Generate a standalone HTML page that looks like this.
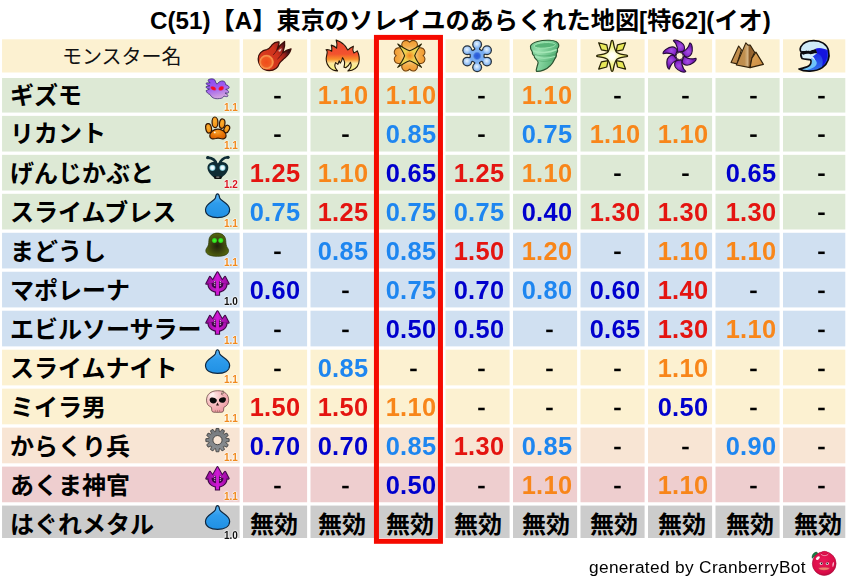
<!DOCTYPE html>
<html><head><meta charset="utf-8"><title>C(51) A</title>
<style>
html,body{margin:0;padding:0;background:#fff}
body{width:849px;height:583px;position:relative;overflow:hidden;font-family:"Liberation Sans",sans-serif}
svg.bg{position:absolute;left:0;top:0}
.n,.l,.f{will-change:transform}
.n{position:absolute;width:80px;height:30px;line-height:30px;text-align:center;font-weight:bold;font-size:25.4px;letter-spacing:0.3px;white-space:nowrap}
.n::after{content:"";}
.l{position:absolute;font-weight:bold;font-size:10.0px;line-height:10px;letter-spacing:0px;text-shadow:0 0 1.2px #fff,0 0 1.2px #fff,0 0 1.5px #fff,0 0 2px #fff}
.f{position:absolute;left:589px;top:556.2px;font-size:17.3px;letter-spacing:0.34px;line-height:22px;color:#000;white-space:nowrap}
</style></head><body>
<svg class="bg" width="849" height="583" viewBox="0 0 849 583">
<defs><g id="mk"><text x="0" y="0" font-size="24" font-weight="bold" fill="#000" font-family="&quot;Liberation Sans&quot;, &quot;Noto Sans CJK JP&quot;, sans-serif">無効</text></g><filter id="f-b5" x="-10%" y="-30%" width="120%" height="160%"><feGaussianBlur stdDeviation="5"/></filter>
<radialGradient id="g-fb" cx="0.48" cy="0.5" r="0.52"><stop offset="0" stop-color="#F04A1A"/><stop offset="0.6" stop-color="#F05A22"/><stop offset="0.82" stop-color="#F89850"/><stop offset="0.92" stop-color="#F07838"/><stop offset="1" stop-color="#DC4420"/></radialGradient>
<linearGradient id="g-fbt" gradientUnits="userSpaceOnUse" x1="200" y1="400" x2="600" y2="200"><stop offset="0" stop-color="#DA3C20"/><stop offset="0.5" stop-color="#CE321C"/><stop offset="0.72" stop-color="#9A221C"/><stop offset="0.88" stop-color="#3A1018"/><stop offset="1" stop-color="#0A0408"/></linearGradient>
<symbol id="i-fireball" viewBox="0 0 706 583">
<path d="M95,335 C95,260 150,205 225,195 C265,188 285,150 310,118 C335,88 380,72 415,75 C420,100 410,130 395,160 L385,195 C410,150 450,100 500,68 C508,110 500,160 480,215 L470,245 C510,210 555,190 600,182 C585,240 545,290 500,325 C470,355 440,375 420,405 C400,470 340,515 265,515 C165,515 95,430 95,335Z" fill="url(#g-fbt)" stroke="#3E0E08" stroke-width="19" stroke-linejoin="round"/>
<path d="M385,195 C370,225 350,250 330,270 M470,245 C450,280 425,310 395,335" fill="none" stroke="#5A1210" stroke-width="14" stroke-linecap="round"/>
<path d="M400,215 C415,195 435,180 455,172 C455,192 445,210 428,225Z" fill="#E8D8D0" opacity="0.85"/>
<circle cx="225" cy="385" r="115" fill="url(#g-fb)"/>
</symbol>
<linearGradient id="g-fl" x1="0" y1="0" x2="0" y2="1"><stop offset="0" stop-color="#EC4830"/><stop offset="0.45" stop-color="#F2522E"/><stop offset="0.62" stop-color="#F8902A"/><stop offset="0.75" stop-color="#FBE9A0"/><stop offset="1" stop-color="#F6F070"/></linearGradient>
<symbol id="i-flame" viewBox="0 0 706 583">
<path d="M270,520 C170,515 95,440 95,335 C95,290 115,250 110,225 C108,212 100,203 93,195 C125,190 155,200 180,218 C185,185 182,155 172,125 C205,135 235,150 255,170 C265,130 262,90 248,48 C330,75 395,130 425,200 C450,175 480,155 512,140 C500,175 500,210 520,245 C540,235 558,225 572,212 C600,270 610,340 595,400 C575,470 515,515 428,522 C465,490 490,440 468,388 C450,425 425,455 395,472 L368,462 C385,415 380,360 345,318 C340,350 330,380 310,402 L295,365 L275,420 L240,393 C222,430 225,480 270,520Z" fill="url(#g-fl)" stroke="#241608" stroke-width="17" stroke-linejoin="round"/>
</symbol>
<radialGradient id="g-bg" cx="0.5" cy="0.5" r="0.5"><stop offset="0" stop-color="#F08A20"/><stop offset="0.22" stop-color="#F4A838"/><stop offset="0.45" stop-color="#EED050"/><stop offset="1" stop-color="#E8DC58"/></radialGradient>
<linearGradient id="g-lb" x1="0" y1="0" x2="0" y2="1"><stop offset="0" stop-color="#F09A30"/><stop offset="0.5" stop-color="#F4AC48"/><stop offset="1" stop-color="#FAD890"/></linearGradient>
<symbol id="i-bang" viewBox="0 0 706 583"><g transform="translate(347,287) rotate(0)"><path d="M0,-60 L-100,-112 C-134,-148 -124,-208 -88,-226 C-56,-242 -20,-232 0,-207 C20,-232 56,-242 88,-226 C124,-208 134,-148 100,-112Z" fill="url(#g-lb)" stroke="#6E4010" stroke-width="16" stroke-linejoin="round"/></g><g transform="translate(347,287) rotate(90)"><path d="M0,-60 L-100,-112 C-134,-148 -124,-208 -88,-226 C-56,-242 -20,-232 0,-207 C20,-232 56,-242 88,-226 C124,-208 134,-148 100,-112Z" fill="url(#g-lb)" stroke="#6E4010" stroke-width="16" stroke-linejoin="round"/></g><g transform="translate(347,287) rotate(180)"><path d="M0,-60 L-100,-112 C-134,-148 -124,-208 -88,-226 C-56,-242 -20,-232 0,-207 C20,-232 56,-242 88,-226 C124,-208 134,-148 100,-112Z" fill="url(#g-lb)" stroke="#6E4010" stroke-width="16" stroke-linejoin="round"/></g><g transform="translate(347,287) rotate(270)"><path d="M0,-60 L-100,-112 C-134,-148 -124,-208 -88,-226 C-56,-242 -20,-232 0,-207 C20,-232 56,-242 88,-226 C124,-208 134,-148 100,-112Z" fill="url(#g-lb)" stroke="#6E4010" stroke-width="16" stroke-linejoin="round"/></g><path d="M165,107 Q275,185 347,210 Q420,185 530,107 Q450,215 425,287 Q450,360 530,467 Q420,390 347,364 Q275,390 165,467 Q245,360 270,287 Q245,215 165,107Z" fill="url(#g-bg)" stroke="#262408" stroke-width="16" stroke-linejoin="round"/></symbol>
<radialGradient id="g-il" cx="0.45" cy="0.4" r="0.6"><stop offset="0" stop-color="#E8F4FF"/><stop offset="0.6" stop-color="#A8CCF6"/><stop offset="1" stop-color="#7AAEF0"/></radialGradient><radialGradient id="g-ic" cx="0.5" cy="0.5" r="0.5"><stop offset="0" stop-color="#2858D8"/><stop offset="0.6" stop-color="#3468DC"/><stop offset="1" stop-color="#7AAEF0"/></radialGradient>
<symbol id="i-ice" viewBox="0 0 706 583"><line x1="355" y1="290" x2="355.0" y2="115.0" stroke="#26303A" stroke-width="94"/><line x1="355" y1="290" x2="506.6" y2="202.5" stroke="#26303A" stroke-width="94"/><line x1="355" y1="290" x2="506.6" y2="377.5" stroke="#26303A" stroke-width="94"/><line x1="355" y1="290" x2="355.0" y2="465.0" stroke="#26303A" stroke-width="94"/><line x1="355" y1="290" x2="203.4" y2="377.5" stroke="#26303A" stroke-width="94"/><line x1="355" y1="290" x2="203.4" y2="202.5" stroke="#26303A" stroke-width="94"/><circle cx="355.0" cy="115.0" r="76" fill="#26303A"/><circle cx="506.6" cy="202.5" r="76" fill="#26303A"/><circle cx="506.6" cy="377.5" r="76" fill="#26303A"/><circle cx="355.0" cy="465.0" r="76" fill="#26303A"/><circle cx="203.4" cy="377.5" r="76" fill="#26303A"/><circle cx="203.4" cy="202.5" r="76" fill="#26303A"/><circle cx="355" cy="290" r="116" fill="#26303A"/><line x1="355" y1="290" x2="355.0" y2="115.0" stroke="#7AAEF0" stroke-width="58"/><line x1="355" y1="290" x2="506.6" y2="202.5" stroke="#7AAEF0" stroke-width="58"/><line x1="355" y1="290" x2="506.6" y2="377.5" stroke="#7AAEF0" stroke-width="58"/><line x1="355" y1="290" x2="355.0" y2="465.0" stroke="#7AAEF0" stroke-width="58"/><line x1="355" y1="290" x2="203.4" y2="377.5" stroke="#7AAEF0" stroke-width="58"/><line x1="355" y1="290" x2="203.4" y2="202.5" stroke="#7AAEF0" stroke-width="58"/><circle cx="355" cy="290" r="98" fill="#7AAEF0"/><circle cx="355.0" cy="115.0" r="57" fill="url(#g-il)"/><circle cx="506.6" cy="202.5" r="57" fill="url(#g-il)"/><circle cx="506.6" cy="377.5" r="57" fill="url(#g-il)"/><circle cx="355.0" cy="465.0" r="57" fill="url(#g-il)"/><circle cx="203.4" cy="377.5" r="57" fill="url(#g-il)"/><circle cx="203.4" cy="202.5" r="57" fill="url(#g-il)"/><circle cx="355" cy="290" r="68" fill="url(#g-ic)"/></symbol>
<linearGradient id="g-wd" x1="0" y1="0" x2="1" y2="0.3"><stop offset="0" stop-color="#6EC48C"/><stop offset="0.35" stop-color="#98E0AE"/><stop offset="0.8" stop-color="#66BE84"/><stop offset="1" stop-color="#56B076"/></linearGradient>
<symbol id="i-wind" viewBox="0 0 706 583">
<path d="M130,140 C150,75 300,45 420,50 C500,52 560,80 565,125 C568,150 555,170 540,185 C550,205 545,235 525,255 C535,285 520,315 500,340 C470,410 400,480 330,508 C295,522 255,528 222,527 C208,500 235,455 248,395 C250,380 235,360 215,340 C195,325 185,305 188,290 C165,275 155,250 160,230 C140,210 125,180 130,140Z" fill="url(#g-wd)" stroke="#2A5230" stroke-width="18" stroke-linejoin="round"/>
<ellipse cx="350" cy="128" rx="165" ry="42" transform="rotate(-4 350 128)" fill="#58B478" stroke="#9EE4B0" stroke-width="14"/>
<g filter="url(#f-b5)"><path d="M175,215 C250,250 420,245 525,195" fill="none" stroke="#A4E6B6" stroke-width="24" stroke-linecap="round"/>
<path d="M185,262 C260,300 410,300 510,262" fill="none" stroke="#4CA468" stroke-width="12" stroke-linecap="round" opacity="0.8"/>
<path d="M205,300 C270,335 400,335 500,300" fill="none" stroke="#A4E6B6" stroke-width="18" stroke-linecap="round"/>
<path d="M235,355 C300,385 390,380 470,350" fill="none" stroke="#4CA468" stroke-width="12" stroke-linecap="round" opacity="0.7"/></g>
</symbol>
<radialGradient id="g-lt" cx="0.5" cy="0.5" r="0.5"><stop offset="0" stop-color="#FFFFFF"/><stop offset="0.2" stop-color="#FFFFF0"/><stop offset="0.55" stop-color="#F4F48A"/><stop offset="1" stop-color="#ECEC60"/></radialGradient>
<symbol id="i-light" viewBox="0 0 706 583"><g transform="translate(355,290) scale(1 1)"><path d="M-206,-202 L-82,-170 L-62,-72 L-165,-92Z" fill="#E8E858" stroke="#262206" stroke-width="19" stroke-linejoin="round"/></g><g transform="translate(355,290) scale(-1 1)"><path d="M-206,-202 L-82,-170 L-62,-72 L-165,-92Z" fill="#E8E858" stroke="#262206" stroke-width="19" stroke-linejoin="round"/></g><g transform="translate(355,290) scale(1 -1)"><path d="M-206,-202 L-82,-170 L-62,-72 L-165,-92Z" fill="#E8E858" stroke="#262206" stroke-width="19" stroke-linejoin="round"/></g><g transform="translate(355,290) scale(-1 -1)"><path d="M-206,-202 L-82,-170 L-62,-72 L-165,-92Z" fill="#E8E858" stroke="#262206" stroke-width="19" stroke-linejoin="round"/></g><path d="M355,52 C362,52 368,58 370,70 C385,150 400,215 428,238 C460,260 515,272 575,278 C588,280 592,285 592,290 C592,295 588,300 575,302 C515,308 460,320 428,342 C400,365 385,430 370,510 C368,522 362,528 355,528 C348,528 342,522 340,510 C325,430 310,365 282,342 C250,320 195,308 135,302 C122,300 118,295 118,290 C118,285 122,280 135,278 C195,272 250,260 282,238 C310,215 325,150 340,70 C342,58 348,52 355,52Z" fill="url(#g-lt)" stroke="#262206" stroke-width="20" stroke-linejoin="round"/></symbol>
<radialGradient id="g-dk" gradientUnits="userSpaceOnUse" cx="10" cy="-150" r="95"><stop offset="0" stop-color="#A650E4"/><stop offset="0.6" stop-color="#8A2CCC"/><stop offset="1" stop-color="#6A1AA8"/></radialGradient>
<symbol id="i-dark" viewBox="0 0 706 583"><g transform="translate(362,292) rotate(0)"><path d="M-38,-58 C-28,-100 -35,-150 -62,-195 C-72,-212 -88,-225 -95,-236 C-92,-250 -55,-250 -22,-236 C38,-210 82,-160 76,-112 C73,-92 64,-80 50,-72Z" fill="url(#g-dk)" stroke="#260A38" stroke-width="17" stroke-linejoin="round"/></g><g transform="translate(362,292) rotate(60)"><path d="M-38,-58 C-28,-100 -35,-150 -62,-195 C-72,-212 -88,-225 -95,-236 C-92,-250 -55,-250 -22,-236 C38,-210 82,-160 76,-112 C73,-92 64,-80 50,-72Z" fill="url(#g-dk)" stroke="#260A38" stroke-width="17" stroke-linejoin="round"/></g><g transform="translate(362,292) rotate(120)"><path d="M-38,-58 C-28,-100 -35,-150 -62,-195 C-72,-212 -88,-225 -95,-236 C-92,-250 -55,-250 -22,-236 C38,-210 82,-160 76,-112 C73,-92 64,-80 50,-72Z" fill="url(#g-dk)" stroke="#260A38" stroke-width="17" stroke-linejoin="round"/></g><g transform="translate(362,292) rotate(180)"><path d="M-38,-58 C-28,-100 -35,-150 -62,-195 C-72,-212 -88,-225 -95,-236 C-92,-250 -55,-250 -22,-236 C38,-210 82,-160 76,-112 C73,-92 64,-80 50,-72Z" fill="url(#g-dk)" stroke="#260A38" stroke-width="17" stroke-linejoin="round"/></g><g transform="translate(362,292) rotate(240)"><path d="M-38,-58 C-28,-100 -35,-150 -62,-195 C-72,-212 -88,-225 -95,-236 C-92,-250 -55,-250 -22,-236 C38,-210 82,-160 76,-112 C73,-92 64,-80 50,-72Z" fill="url(#g-dk)" stroke="#260A38" stroke-width="17" stroke-linejoin="round"/></g><g transform="translate(362,292) rotate(300)"><path d="M-38,-58 C-28,-100 -35,-150 -62,-195 C-72,-212 -88,-225 -95,-236 C-92,-250 -55,-250 -22,-236 C38,-210 82,-160 76,-112 C73,-92 64,-80 50,-72Z" fill="url(#g-dk)" stroke="#260A38" stroke-width="17" stroke-linejoin="round"/></g><circle cx="362" cy="292" r="56" fill="#FCF1D1" stroke="#2A0C3C" stroke-width="15"/></symbol>
<linearGradient id="g-e1" x1="0" y1="0" x2="1" y2="1"><stop offset="0" stop-color="#D4A460"/><stop offset="1" stop-color="#B07A3C"/></linearGradient>
<linearGradient id="g-e2" x1="0" y1="0" x2="1" y2="0"><stop offset="0" stop-color="#BE8A48"/><stop offset="0.45" stop-color="#C09050"/><stop offset="0.62" stop-color="#D4B484"/><stop offset="0.72" stop-color="#8E5E2A"/><stop offset="1" stop-color="#A06C32"/></linearGradient>
<linearGradient id="g-e3" x1="0" y1="0" x2="1" y2="1"><stop offset="0" stop-color="#E0A858"/><stop offset="1" stop-color="#C88840"/></linearGradient>
<symbol id="i-earth" viewBox="0 0 706 583">
<path d="M225,138 L268,195 L200,412 L108,390Z" fill="url(#g-e1)" stroke="#30200A" stroke-width="17" stroke-linejoin="round"/>
<path d="M335,90 L368,125 L402,125 L470,235 L425,330 L400,470 L190,430Z" fill="url(#g-e2)" stroke="#30200A" stroke-width="17" stroke-linejoin="round"/>
<path d="M490,232 L605,420 L400,470 L428,325Z" fill="url(#g-e3)" stroke="#30200A" stroke-width="17" stroke-linejoin="round"/>
</symbol>
<linearGradient id="g-wv" x1="0" y1="0" x2="0" y2="1"><stop offset="0" stop-color="#1A1AE8"/><stop offset="0.5" stop-color="#2850E8"/><stop offset="1" stop-color="#3A8AF0"/></linearGradient>
<clipPath id="c-wv"><path d="M122,490 C200,535 380,540 480,470 C560,410 600,310 575,205 C550,110 460,55 350,55 C260,55 180,90 150,150 C135,185 140,215 160,232 C150,255 148,300 170,330 C215,345 270,340 300,350 C318,375 305,420 270,445 C230,470 170,480 122,490Z"/></clipPath>
<symbol id="i-wave" viewBox="0 0 706 583">
<path d="M122,490 C200,535 380,540 480,470 C560,410 600,310 575,205 C550,110 460,55 350,55 C260,55 180,90 150,150 C135,185 140,215 160,232 C150,255 148,300 170,330 C215,345 270,340 300,350 C318,375 305,420 270,445 C230,470 170,480 122,490Z" fill="#CFEAF8"/>
<g clip-path="url(#c-wv)">
<path d="M370,185 C430,160 520,170 640,240 L640,580 L80,580 L80,485 C230,480 290,455 312,420 C330,385 325,345 300,320 C340,300 375,270 400,250 C395,225 385,205 370,185Z" fill="url(#g-wv)"/>
<path d="M370,185 C430,160 500,172 548,225 C566,300 545,400 470,465 C505,380 490,285 400,250 C395,225 385,205 370,185Z" fill="#1414E0"/>
<path d="M305,335 C350,330 385,350 395,390 C400,440 350,485 250,505 C210,512 150,515 100,500 C230,480 290,455 312,420 C325,390 322,360 305,335Z" fill="#6EC4F8"/>
<path d="M160,222 C190,205 215,225 232,208 C250,225 268,202 290,220 C310,195 340,205 372,184 C398,212 402,252 402,252 C360,246 330,262 300,264 C260,252 220,256 188,272 C168,262 155,242 160,222Z" fill="#0A0A10"/>
<path d="M185,300 C220,272 290,270 335,300 C360,320 370,345 372,370 C355,338 320,325 290,327 C250,330 215,335 190,325Z" fill="#D8F0FA"/>
</g>
<path d="M122,490 C200,535 380,540 480,470 C560,410 600,310 575,205 C550,110 460,55 350,55 C260,55 180,90 150,150 C135,185 140,215 160,232 C150,255 148,300 170,330 C215,345 270,340 300,350 C318,375 305,420 270,445 C230,470 170,480 122,490Z" fill="none" stroke="#0A0A10" stroke-width="25" stroke-linejoin="round"/>
</symbol>
<linearGradient id="g-gh" x1="0" y1="0" x2="0.3" y2="1"><stop offset="0" stop-color="#8A48F0"/><stop offset="0.5" stop-color="#9C5CF0"/><stop offset="1" stop-color="#D0A0E0"/></linearGradient>
<radialGradient id="g-re" cx="0.5" cy="0.5" r="0.5"><stop offset="0" stop-color="#FF0818"/><stop offset="0.55" stop-color="#F01030"/><stop offset="1" stop-color="#D030A0" stop-opacity="0"/></radialGradient>
<symbol id="i-ghost" viewBox="0 0 644 583">
<path d="M130,55 C160,38 210,40 228,62 C238,78 236,105 262,125 C285,90 320,72 352,76 C380,82 395,105 392,132 C425,140 450,160 447,182 C440,196 420,200 394,205 C438,218 447,245 432,262 L384,262 C428,283 434,300 422,314 C400,320 385,314 368,308 C355,335 330,345 300,346 C260,352 225,348 200,335 C180,325 162,305 152,283 C125,275 98,250 93,225 L146,200 C98,192 90,176 94,162 L150,150 C100,140 90,122 98,106 L156,104 C124,86 120,68 130,55Z" fill="url(#g-gh)" stroke="#30206A" stroke-width="11" stroke-linejoin="round"/>
<ellipse cx="205" cy="190" rx="58" ry="36" transform="rotate(28 205 190)" fill="url(#g-re)"/>
<ellipse cx="325" cy="190" rx="56" ry="42" transform="rotate(-28 325 190)" fill="url(#g-re)"/>
</symbol>
<radialGradient id="g-pt" cx="0.45" cy="0.4" r="0.6"><stop offset="0" stop-color="#FBB030"/><stop offset="1" stop-color="#F08A10"/></radialGradient>
<radialGradient id="g-pp" cx="0.45" cy="0.3" r="0.7"><stop offset="0" stop-color="#F8A028"/><stop offset="0.6" stop-color="#E87408"/><stop offset="1" stop-color="#D86000"/></radialGradient>
<symbol id="i-paw" viewBox="0 0 644 583">
<g fill="url(#g-pt)" stroke="#341804" stroke-width="19">
<ellipse cx="132" cy="222" rx="44" ry="72" transform="rotate(-10 132 222)"/>
<ellipse cx="230" cy="130" rx="45" ry="82" transform="rotate(-2 230 130)"/>
<ellipse cx="340" cy="150" rx="42" ry="72" transform="rotate(8 340 150)"/>
<ellipse cx="410" cy="232" rx="40" ry="60" transform="rotate(25 410 232)"/>
</g>
<path d="M150,340 C150,272 215,235 275,235 C338,235 400,275 400,340 C400,385 345,388 312,378 C290,371 262,371 242,378 C200,390 150,388 150,340Z" fill="url(#g-pp)" stroke="#341804" stroke-width="19" stroke-linejoin="round"/>
<circle cx="226" cy="284" r="15" fill="#FFF6E0"/>
</symbol>
<radialGradient id="g-be" cx="0.5" cy="0.5" r="0.5"><stop offset="0" stop-color="#FFFFFF"/><stop offset="0.55" stop-color="#D8F4FA"/><stop offset="1" stop-color="#5AA8B8"/></radialGradient>
<symbol id="i-bug" viewBox="0 0 644 583">
<path d="M255,195 C240,130 195,92 122,88" fill="none" stroke="#0E2C34" stroke-width="40" stroke-linecap="round"/><circle cx="118" cy="90" r="25" fill="#0E2C34"/>
<path d="M295,195 C315,125 362,88 425,82" fill="none" stroke="#0E2C34" stroke-width="40" stroke-linecap="round"/><circle cx="430" cy="84" r="25" fill="#0E2C34"/>
<path d="M272,178 C232,140 130,150 115,230 C105,300 170,360 212,392 L228,418 L322,418 L338,390 C392,350 450,290 430,215 C412,150 315,140 272,178Z" fill="#0E2C34"/>
<path d="M210,375 L335,375 L322,418 L228,418Z" fill="#101010"/>
<rect x="248" y="378" width="50" height="18" rx="6" fill="#8A9090"/>
<circle cx="190" cy="245" r="48" fill="url(#g-be)"/>
<circle cx="345" cy="245" r="48" fill="url(#g-be)"/>
</symbol>
<linearGradient id="g-sl" x1="0" y1="0" x2="0" y2="1"><stop offset="0" stop-color="#60B8F6"/><stop offset="0.4" stop-color="#2E9CEC"/><stop offset="1" stop-color="#2090E4"/></linearGradient>
<symbol id="i-slime" viewBox="0 0 644 583">
<path d="M268,62 C292,62 296,92 301,122 C312,172 452,202 455,300 C455,392 360,425 268,425 C172,425 82,392 84,300 C88,202 226,172 237,122 C242,92 246,62 268,62Z" fill="url(#g-sl)" stroke="#102840" stroke-width="18" stroke-linejoin="round"/>
</symbol>
<radialGradient id="g-hd" cx="0.5" cy="0.55" r="0.55"><stop offset="0" stop-color="#20200C"/><stop offset="0.45" stop-color="#38400E"/><stop offset="1" stop-color="#56680E"/></radialGradient>
<radialGradient id="g-ge" cx="0.5" cy="0.5" r="0.5"><stop offset="0" stop-color="#40FF28"/><stop offset="0.6" stop-color="#30E020"/><stop offset="1" stop-color="#30C020" stop-opacity="0"/></radialGradient>
<symbol id="i-hood" viewBox="0 0 644 583">
<path d="M265,65 C332,65 390,102 395,180 C398,230 400,260 420,290 C452,330 440,372 400,395 C340,430 190,430 130,395 C86,372 76,330 106,290 C130,260 135,230 136,180 C140,102 200,65 265,65Z" fill="url(#g-hd)" stroke="#2C380A" stroke-width="11" stroke-linejoin="round"/>
<circle cx="222" cy="178" r="48" fill="url(#g-ge)"/>
<circle cx="318" cy="178" r="48" fill="url(#g-ge)"/>
</symbol>
<linearGradient id="g-tr" gradientUnits="userSpaceOnUse" x1="95" y1="0" x2="445" y2="0"><stop offset="0" stop-color="#940A9A"/><stop offset="0.5" stop-color="#D01AD6"/><stop offset="1" stop-color="#940A9A"/></linearGradient>
<symbol id="i-trident" viewBox="0 0 644 583"><path d="M152,235 C152,330 232,342 268,342 C304,342 384,330 384,235Z" fill="#480A50"/><path d="M152,235 C152,330 232,342 268,342 C304,342 384,330 384,235" fill="none" stroke="#3C0844" stroke-width="80"/>
<line x1="268" y1="160" x2="268" y2="428" stroke="#3C0844" stroke-width="80" stroke-linecap="butt"/>
<path d="M268,70 L342,200 L194,200Z" fill="#3C0844" stroke="#3C0844" stroke-width="34" stroke-linejoin="round"/>
<path d="M152,140 L218,226 L98,244Z" fill="#3C0844" stroke="#3C0844" stroke-width="34" stroke-linejoin="round"/>
<path d="M384,140 L438,244 L318,226Z" fill="#3C0844" stroke="#3C0844" stroke-width="34" stroke-linejoin="round"/><path d="M152,235 C152,330 232,342 268,342 C304,342 384,330 384,235" fill="none" stroke="url(#g-tr)" stroke-width="48"/>
<line x1="268" y1="160" x2="268" y2="413" stroke="url(#g-tr)" stroke-width="48" stroke-linecap="butt"/>
<path d="M268,70 L342,200 L194,200Z" fill="url(#g-tr)" stroke="url(#g-tr)" stroke-width="4" stroke-linejoin="round"/>
<path d="M152,140 L218,226 L98,244Z" fill="url(#g-tr)" stroke="url(#g-tr)" stroke-width="4" stroke-linejoin="round"/>
<path d="M384,140 L438,244 L318,226Z" fill="url(#g-tr)" stroke="url(#g-tr)" stroke-width="4" stroke-linejoin="round"/><g fill="#F6E0F6"><circle cx="226" cy="212" r="9"/><circle cx="226" cy="243" r="9"/><circle cx="226" cy="272" r="8"/><circle cx="311" cy="212" r="9"/><circle cx="311" cy="243" r="9"/><circle cx="311" cy="272" r="8"/></g></symbol>
<radialGradient id="g-sk" cx="0.3" cy="0.25" r="0.8"><stop offset="0" stop-color="#FFEEEC"/><stop offset="0.45" stop-color="#F8C0C2"/><stop offset="1" stop-color="#EC9AA2"/></radialGradient>
<symbol id="i-skull" viewBox="0 0 644 583">
<path d="M270,90 C380,85 440,150 440,235 C440,290 410,325 366,345 L360,400 C356,420 330,421 300,421 L240,421 C200,421 186,416 181,396 L176,345 C126,325 100,290 100,235 C100,150 160,90 270,90Z" fill="url(#g-sk)" stroke="#4A2A2A" stroke-width="10" stroke-linejoin="round"/>
<path d="M150,215 C170,185 225,190 258,228 C262,262 235,285 200,285 C165,285 140,250 150,215Z" fill="#0A0A0A"/>
<path d="M395,205 C372,180 320,188 290,225 C288,258 312,278 345,276 C380,274 405,240 395,205Z" fill="#0A0A0A"/>
<path d="M268,272 L292,315 L246,315Z" fill="#2A1212"/>
<path d="M352,88 L328,142 L365,128Z" fill="#FCF1D1" stroke="#4A2A2A" stroke-width="8" stroke-linejoin="round"/>
<path d="M328,142 L352,158" fill="none" stroke="#4A2A2A" stroke-width="7" stroke-linecap="round"/>
<ellipse cx="185" cy="150" rx="45" ry="22" transform="rotate(-35 185 150)" fill="#FFF4F2" opacity="0.8"/>
<g stroke="#8A5A50" stroke-width="7"><line x1="235" y1="385" x2="235" y2="418"/><line x1="268" y1="385" x2="268" y2="418"/><line x1="300" y1="385" x2="300" y2="418"/></g>
</symbol>
<linearGradient id="g-gr" x1="0" y1="0" x2="0" y2="1"><stop offset="0" stop-color="#74787C"/><stop offset="1" stop-color="#8C9094"/></linearGradient>
<symbol id="i-gear" viewBox="0 0 644 583"><path d="M239.4,119.1 L246.5,71.3 L289.5,71.3 L296.6,119.1 L308.7,122.3 L338.7,84.5 L376.0,106.0 L358.2,150.9 L367.1,159.8 L412.0,142.0 L433.5,179.3 L395.7,209.3 L398.9,221.4 L446.7,228.5 L446.7,271.5 L398.9,278.6 L395.7,290.7 L433.5,320.7 L412.0,358.0 L367.1,340.2 L358.2,349.1 L376.0,394.0 L338.7,415.5 L308.7,377.7 L296.6,380.9 L289.5,428.7 L246.5,428.7 L239.4,380.9 L227.3,377.7 L197.3,415.5 L160.0,394.0 L177.8,349.1 L168.9,340.2 L124.0,358.0 L102.5,320.7 L140.3,290.7 L137.1,278.6 L89.3,271.5 L89.3,228.5 L137.1,221.4 L140.3,209.3 L102.5,179.3 L124.0,142.0 L168.9,159.8 L177.8,150.9 L160.0,106.0 L197.3,84.5 L227.3,122.3Z" fill="url(#g-gr)" stroke="#3C3C3C" stroke-width="13" stroke-linejoin="round"/><circle cx="268" cy="250" r="70" fill="#F8E5D4" stroke="#3C3C3C" stroke-width="14"/></symbol>
<radialGradient id="g-cr" cx="0.45" cy="0.4" r="0.6"><stop offset="0" stop-color="#EA1858"/><stop offset="0.8" stop-color="#DC0C48"/><stop offset="1" stop-color="#C00840"/></radialGradient>
<symbol id="i-cran" viewBox="0 0 648 583">
<path d="M100,215 C90,170 120,125 165,115 C190,120 200,140 190,160 C160,170 130,190 100,215Z" fill="#1E7A44" stroke="#0E4A28" stroke-width="8"/>
<circle cx="295" cy="300" r="192" fill="url(#g-cr)" stroke="#A80838" stroke-width="10"/>
<ellipse cx="300" cy="130" rx="52" ry="28" fill="#E0104C" stroke="#B00838" stroke-width="6"/>
<path d="M245,150 C270,180 335,180 358,150" fill="none" stroke="#FBE0E8" stroke-width="10" stroke-linecap="round"/>
<ellipse cx="192" cy="212" rx="38" ry="22" transform="rotate(-40 192 212)" fill="#FFF0F4"/>
<ellipse cx="440" cy="315" rx="10" ry="42" transform="rotate(8 440 315)" fill="#FBD0DC"/>
<ellipse cx="247" cy="300" rx="26" ry="24" fill="#E8E0E0"/><circle cx="252" cy="300" r="11" fill="#101010"/>
<ellipse cx="345" cy="300" rx="26" ry="24" fill="#E8E0E0"/><circle cx="345" cy="300" r="11" fill="#101010"/>
<path d="M225,272 L275,290 M368,272 L320,290" stroke="#8A0830" stroke-width="9" stroke-linecap="round"/>
<path d="M200,370 C240,355 345,355 385,370 C375,400 340,410 292,410 C245,410 210,400 200,370Z" fill="#F08070" stroke="#C0284A" stroke-width="7"/>
</symbol></defs>
<rect x="2.05" y="39.3" width="237.55" height="33.20" fill="#FCF1D1"/><rect x="243.00" y="39.3" width="64.10" height="33.20" fill="#FCF1D1"/><rect x="310.50" y="39.3" width="64.10" height="33.20" fill="#FCF1D1"/><rect x="378.00" y="39.3" width="64.10" height="33.20" fill="#FCF1D1"/><rect x="445.50" y="39.3" width="64.10" height="33.20" fill="#FCF1D1"/><rect x="513.00" y="39.3" width="64.10" height="33.20" fill="#FCF1D1"/><rect x="580.50" y="39.3" width="64.10" height="33.20" fill="#FCF1D1"/><rect x="648.00" y="39.3" width="64.10" height="33.20" fill="#FCF1D1"/><rect x="715.50" y="39.3" width="64.10" height="33.20" fill="#FCF1D1"/><rect x="783.00" y="39.3" width="62.30" height="33.20" fill="#FCF1D1"/><rect x="2.05" y="78.0" width="237.55" height="34.57" fill="#DDE9D5"/><rect x="243.00" y="78.0" width="64.10" height="34.57" fill="#DDE9D5"/><rect x="310.50" y="78.0" width="64.10" height="34.57" fill="#DDE9D5"/><rect x="378.00" y="78.0" width="64.10" height="34.57" fill="#DDE9D5"/><rect x="445.50" y="78.0" width="64.10" height="34.57" fill="#DDE9D5"/><rect x="513.00" y="78.0" width="64.10" height="34.57" fill="#DDE9D5"/><rect x="580.50" y="78.0" width="64.10" height="34.57" fill="#DDE9D5"/><rect x="648.00" y="78.0" width="64.10" height="34.57" fill="#DDE9D5"/><rect x="715.50" y="78.0" width="64.10" height="34.57" fill="#DDE9D5"/><rect x="783.00" y="78.0" width="62.30" height="34.57" fill="#DDE9D5"/><rect x="2.05" y="115.87" width="237.55" height="35.67" fill="#DDE9D5"/><rect x="243.00" y="115.87" width="64.10" height="35.67" fill="#DDE9D5"/><rect x="310.50" y="115.87" width="64.10" height="35.67" fill="#DDE9D5"/><rect x="378.00" y="115.87" width="64.10" height="35.67" fill="#DDE9D5"/><rect x="445.50" y="115.87" width="64.10" height="35.67" fill="#DDE9D5"/><rect x="513.00" y="115.87" width="64.10" height="35.67" fill="#DDE9D5"/><rect x="580.50" y="115.87" width="64.10" height="35.67" fill="#DDE9D5"/><rect x="648.00" y="115.87" width="64.10" height="35.67" fill="#DDE9D5"/><rect x="715.50" y="115.87" width="64.10" height="35.67" fill="#DDE9D5"/><rect x="783.00" y="115.87" width="62.30" height="35.67" fill="#DDE9D5"/><rect x="2.05" y="154.84" width="237.55" height="35.67" fill="#DDE9D5"/><rect x="243.00" y="154.84" width="64.10" height="35.67" fill="#DDE9D5"/><rect x="310.50" y="154.84" width="64.10" height="35.67" fill="#DDE9D5"/><rect x="378.00" y="154.84" width="64.10" height="35.67" fill="#DDE9D5"/><rect x="445.50" y="154.84" width="64.10" height="35.67" fill="#DDE9D5"/><rect x="513.00" y="154.84" width="64.10" height="35.67" fill="#DDE9D5"/><rect x="580.50" y="154.84" width="64.10" height="35.67" fill="#DDE9D5"/><rect x="648.00" y="154.84" width="64.10" height="35.67" fill="#DDE9D5"/><rect x="715.50" y="154.84" width="64.10" height="35.67" fill="#DDE9D5"/><rect x="783.00" y="154.84" width="62.30" height="35.67" fill="#DDE9D5"/><rect x="2.05" y="193.81" width="237.55" height="35.67" fill="#DDE9D5"/><rect x="243.00" y="193.81" width="64.10" height="35.67" fill="#DDE9D5"/><rect x="310.50" y="193.81" width="64.10" height="35.67" fill="#DDE9D5"/><rect x="378.00" y="193.81" width="64.10" height="35.67" fill="#DDE9D5"/><rect x="445.50" y="193.81" width="64.10" height="35.67" fill="#DDE9D5"/><rect x="513.00" y="193.81" width="64.10" height="35.67" fill="#DDE9D5"/><rect x="580.50" y="193.81" width="64.10" height="35.67" fill="#DDE9D5"/><rect x="648.00" y="193.81" width="64.10" height="35.67" fill="#DDE9D5"/><rect x="715.50" y="193.81" width="64.10" height="35.67" fill="#DDE9D5"/><rect x="783.00" y="193.81" width="62.30" height="35.67" fill="#DDE9D5"/><rect x="2.05" y="232.78" width="237.55" height="35.67" fill="#D0E0F1"/><rect x="243.00" y="232.78" width="64.10" height="35.67" fill="#D0E0F1"/><rect x="310.50" y="232.78" width="64.10" height="35.67" fill="#D0E0F1"/><rect x="378.00" y="232.78" width="64.10" height="35.67" fill="#D0E0F1"/><rect x="445.50" y="232.78" width="64.10" height="35.67" fill="#D0E0F1"/><rect x="513.00" y="232.78" width="64.10" height="35.67" fill="#D0E0F1"/><rect x="580.50" y="232.78" width="64.10" height="35.67" fill="#D0E0F1"/><rect x="648.00" y="232.78" width="64.10" height="35.67" fill="#D0E0F1"/><rect x="715.50" y="232.78" width="64.10" height="35.67" fill="#D0E0F1"/><rect x="783.00" y="232.78" width="62.30" height="35.67" fill="#D0E0F1"/><rect x="2.05" y="271.75" width="237.55" height="35.67" fill="#D0E0F1"/><rect x="243.00" y="271.75" width="64.10" height="35.67" fill="#D0E0F1"/><rect x="310.50" y="271.75" width="64.10" height="35.67" fill="#D0E0F1"/><rect x="378.00" y="271.75" width="64.10" height="35.67" fill="#D0E0F1"/><rect x="445.50" y="271.75" width="64.10" height="35.67" fill="#D0E0F1"/><rect x="513.00" y="271.75" width="64.10" height="35.67" fill="#D0E0F1"/><rect x="580.50" y="271.75" width="64.10" height="35.67" fill="#D0E0F1"/><rect x="648.00" y="271.75" width="64.10" height="35.67" fill="#D0E0F1"/><rect x="715.50" y="271.75" width="64.10" height="35.67" fill="#D0E0F1"/><rect x="783.00" y="271.75" width="62.30" height="35.67" fill="#D0E0F1"/><rect x="2.05" y="310.72" width="237.55" height="35.67" fill="#D0E0F1"/><rect x="243.00" y="310.72" width="64.10" height="35.67" fill="#D0E0F1"/><rect x="310.50" y="310.72" width="64.10" height="35.67" fill="#D0E0F1"/><rect x="378.00" y="310.72" width="64.10" height="35.67" fill="#D0E0F1"/><rect x="445.50" y="310.72" width="64.10" height="35.67" fill="#D0E0F1"/><rect x="513.00" y="310.72" width="64.10" height="35.67" fill="#D0E0F1"/><rect x="580.50" y="310.72" width="64.10" height="35.67" fill="#D0E0F1"/><rect x="648.00" y="310.72" width="64.10" height="35.67" fill="#D0E0F1"/><rect x="715.50" y="310.72" width="64.10" height="35.67" fill="#D0E0F1"/><rect x="783.00" y="310.72" width="62.30" height="35.67" fill="#D0E0F1"/><rect x="2.05" y="349.69" width="237.55" height="35.67" fill="#FCF1D1"/><rect x="243.00" y="349.69" width="64.10" height="35.67" fill="#FCF1D1"/><rect x="310.50" y="349.69" width="64.10" height="35.67" fill="#FCF1D1"/><rect x="378.00" y="349.69" width="64.10" height="35.67" fill="#FCF1D1"/><rect x="445.50" y="349.69" width="64.10" height="35.67" fill="#FCF1D1"/><rect x="513.00" y="349.69" width="64.10" height="35.67" fill="#FCF1D1"/><rect x="580.50" y="349.69" width="64.10" height="35.67" fill="#FCF1D1"/><rect x="648.00" y="349.69" width="64.10" height="35.67" fill="#FCF1D1"/><rect x="715.50" y="349.69" width="64.10" height="35.67" fill="#FCF1D1"/><rect x="783.00" y="349.69" width="62.30" height="35.67" fill="#FCF1D1"/><rect x="2.05" y="388.66" width="237.55" height="35.67" fill="#FCF1D1"/><rect x="243.00" y="388.66" width="64.10" height="35.67" fill="#FCF1D1"/><rect x="310.50" y="388.66" width="64.10" height="35.67" fill="#FCF1D1"/><rect x="378.00" y="388.66" width="64.10" height="35.67" fill="#FCF1D1"/><rect x="445.50" y="388.66" width="64.10" height="35.67" fill="#FCF1D1"/><rect x="513.00" y="388.66" width="64.10" height="35.67" fill="#FCF1D1"/><rect x="580.50" y="388.66" width="64.10" height="35.67" fill="#FCF1D1"/><rect x="648.00" y="388.66" width="64.10" height="35.67" fill="#FCF1D1"/><rect x="715.50" y="388.66" width="64.10" height="35.67" fill="#FCF1D1"/><rect x="783.00" y="388.66" width="62.30" height="35.67" fill="#FCF1D1"/><rect x="2.05" y="427.63" width="237.55" height="35.67" fill="#F8E5D4"/><rect x="243.00" y="427.63" width="64.10" height="35.67" fill="#F8E5D4"/><rect x="310.50" y="427.63" width="64.10" height="35.67" fill="#F8E5D4"/><rect x="378.00" y="427.63" width="64.10" height="35.67" fill="#F8E5D4"/><rect x="445.50" y="427.63" width="64.10" height="35.67" fill="#F8E5D4"/><rect x="513.00" y="427.63" width="64.10" height="35.67" fill="#F8E5D4"/><rect x="580.50" y="427.63" width="64.10" height="35.67" fill="#F8E5D4"/><rect x="648.00" y="427.63" width="64.10" height="35.67" fill="#F8E5D4"/><rect x="715.50" y="427.63" width="64.10" height="35.67" fill="#F8E5D4"/><rect x="783.00" y="427.63" width="62.30" height="35.67" fill="#F8E5D4"/><rect x="2.05" y="466.6" width="237.55" height="35.67" fill="#EECECF"/><rect x="243.00" y="466.6" width="64.10" height="35.67" fill="#EECECF"/><rect x="310.50" y="466.6" width="64.10" height="35.67" fill="#EECECF"/><rect x="378.00" y="466.6" width="64.10" height="35.67" fill="#EECECF"/><rect x="445.50" y="466.6" width="64.10" height="35.67" fill="#EECECF"/><rect x="513.00" y="466.6" width="64.10" height="35.67" fill="#EECECF"/><rect x="580.50" y="466.6" width="64.10" height="35.67" fill="#EECECF"/><rect x="648.00" y="466.6" width="64.10" height="35.67" fill="#EECECF"/><rect x="715.50" y="466.6" width="64.10" height="35.67" fill="#EECECF"/><rect x="783.00" y="466.6" width="62.30" height="35.67" fill="#EECECF"/><rect x="2.05" y="505.57" width="237.55" height="32.43" fill="#CCCCCC"/><rect x="243.00" y="505.57" width="64.10" height="32.43" fill="#CCCCCC"/><rect x="310.50" y="505.57" width="64.10" height="32.43" fill="#CCCCCC"/><rect x="378.00" y="505.57" width="64.10" height="32.43" fill="#CCCCCC"/><rect x="445.50" y="505.57" width="64.10" height="32.43" fill="#CCCCCC"/><rect x="513.00" y="505.57" width="64.10" height="32.43" fill="#CCCCCC"/><rect x="580.50" y="505.57" width="64.10" height="32.43" fill="#CCCCCC"/><rect x="648.00" y="505.57" width="64.10" height="32.43" fill="#CCCCCC"/><rect x="715.50" y="505.57" width="64.10" height="32.43" fill="#CCCCCC"/><rect x="783.00" y="505.57" width="62.30" height="32.43" fill="#CCCCCC"/><text x="150.01" y="28.80" font-size="23.95" font-weight="bold" fill="#000" textLength="620.9" lengthAdjust="spacingAndGlyphs" font-family="&quot;Liberation Sans&quot;, &quot;Noto Sans CJK JP&quot;, sans-serif">C(51)【A】東京のソレイユのあらくれた地図[特62](イオ)</text><text x="62.00" y="63.50" font-size="20" fill="#111" font-family="&quot;Liberation Sans&quot;, &quot;Noto Sans CJK JP&quot;, sans-serif">モンスター名</text><g font-size="24" font-weight="bold" fill="#000" font-family="&quot;Liberation Sans&quot;, &quot;Noto Sans CJK JP&quot;, sans-serif"><text x="10.10" y="103.98">ギズモ</text><text x="10.10" y="142.48">リカント</text><text x="10.10" y="181.53">げんじかぶと</text><text x="10.10" y="220.58">スライムブレス</text><text x="10.10" y="259.62">まどうし</text><text x="10.10" y="298.67">マポレーナ</text><text x="10.10" y="337.72">エビルソーサラー</text><text x="10.10" y="376.76">スライムナイト</text><text x="10.10" y="415.81">ミイラ男</text><text x="10.10" y="454.86">からくり兵</text><text x="10.10" y="493.90">あくま神官</text><text x="10.10" y="532.95">はぐれメタル</text></g><rect x="274.20" y="95.89" width="6.5" height="2.55" fill="#000"/><rect x="478.20" y="95.89" width="6.5" height="2.55" fill="#000"/><rect x="614.20" y="95.89" width="6.5" height="2.55" fill="#000"/><rect x="682.20" y="95.89" width="6.5" height="2.55" fill="#000"/><rect x="750.20" y="95.89" width="6.5" height="2.55" fill="#000"/><rect x="818.20" y="95.89" width="6.5" height="2.55" fill="#000"/><rect x="274.20" y="134.38" width="6.5" height="2.55" fill="#000"/><rect x="342.20" y="134.38" width="6.5" height="2.55" fill="#000"/><rect x="478.20" y="134.38" width="6.5" height="2.55" fill="#000"/><rect x="750.20" y="134.38" width="6.5" height="2.55" fill="#000"/><rect x="818.20" y="134.38" width="6.5" height="2.55" fill="#000"/><rect x="614.20" y="173.43" width="6.5" height="2.55" fill="#000"/><rect x="682.20" y="173.43" width="6.5" height="2.55" fill="#000"/><rect x="818.20" y="173.43" width="6.5" height="2.55" fill="#000"/><rect x="818.20" y="212.48" width="6.5" height="2.55" fill="#000"/><rect x="274.20" y="251.52" width="6.5" height="2.55" fill="#000"/><rect x="614.20" y="251.52" width="6.5" height="2.55" fill="#000"/><rect x="818.20" y="251.52" width="6.5" height="2.55" fill="#000"/><rect x="342.20" y="290.57" width="6.5" height="2.55" fill="#000"/><rect x="750.20" y="290.57" width="6.5" height="2.55" fill="#000"/><rect x="818.20" y="290.57" width="6.5" height="2.55" fill="#000"/><rect x="274.20" y="329.62" width="6.5" height="2.55" fill="#000"/><rect x="342.20" y="329.62" width="6.5" height="2.55" fill="#000"/><rect x="546.20" y="329.62" width="6.5" height="2.55" fill="#000"/><rect x="818.20" y="329.62" width="6.5" height="2.55" fill="#000"/><rect x="274.20" y="368.66" width="6.5" height="2.55" fill="#000"/><rect x="410.20" y="368.66" width="6.5" height="2.55" fill="#000"/><rect x="478.20" y="368.66" width="6.5" height="2.55" fill="#000"/><rect x="546.20" y="368.66" width="6.5" height="2.55" fill="#000"/><rect x="614.20" y="368.66" width="6.5" height="2.55" fill="#000"/><rect x="750.20" y="368.66" width="6.5" height="2.55" fill="#000"/><rect x="818.20" y="368.66" width="6.5" height="2.55" fill="#000"/><rect x="478.20" y="407.71" width="6.5" height="2.55" fill="#000"/><rect x="546.20" y="407.71" width="6.5" height="2.55" fill="#000"/><rect x="614.20" y="407.71" width="6.5" height="2.55" fill="#000"/><rect x="750.20" y="407.71" width="6.5" height="2.55" fill="#000"/><rect x="818.20" y="407.71" width="6.5" height="2.55" fill="#000"/><rect x="614.20" y="446.76" width="6.5" height="2.55" fill="#000"/><rect x="682.20" y="446.76" width="6.5" height="2.55" fill="#000"/><rect x="818.20" y="446.76" width="6.5" height="2.55" fill="#000"/><rect x="274.20" y="485.80" width="6.5" height="2.55" fill="#000"/><rect x="342.20" y="485.80" width="6.5" height="2.55" fill="#000"/><rect x="478.20" y="485.80" width="6.5" height="2.55" fill="#000"/><rect x="614.20" y="485.80" width="6.5" height="2.55" fill="#000"/><rect x="750.20" y="485.80" width="6.5" height="2.55" fill="#000"/><rect x="818.20" y="485.80" width="6.5" height="2.55" fill="#000"/><use href="#mk" x="249.90" y="533.35"/><use href="#mk" x="317.90" y="533.35"/><use href="#mk" x="385.90" y="533.35"/><use href="#mk" x="453.90" y="533.35"/><use href="#mk" x="521.90" y="533.35"/><use href="#mk" x="589.90" y="533.35"/><use href="#mk" x="657.90" y="533.35"/><use href="#mk" x="725.90" y="533.35"/><use href="#mk" x="793.90" y="533.35"/><rect x="376.45" y="37.4" width="64.0" height="503.9" fill="none" stroke="#F50A00" stroke-width="5.0"/>
<use href="#i-fireball" x="252" y="37" width="46" height="38"/><use href="#i-flame" x="320" y="37" width="46" height="38"/><use href="#i-bang" x="387" y="37" width="46" height="38"/><use href="#i-ice" x="454" y="37" width="46" height="38"/><use href="#i-wind" x="522" y="37" width="46" height="38"/><use href="#i-light" x="589" y="37" width="46" height="38"/><use href="#i-dark" x="656" y="37" width="46" height="38"/><use href="#i-earth" x="724" y="37" width="46" height="38"/><use href="#i-wave" x="791" y="37" width="46" height="38"/><use href="#i-ghost" x="200" y="76.00" width="42" height="38"/><use href="#i-paw" x="200" y="113.87" width="42" height="38"/><use href="#i-bug" x="200" y="151.84" width="42" height="38"/><use href="#i-slime" x="200" y="189.86" width="42" height="38"/><use href="#i-hood" x="200" y="228.88" width="42" height="38"/><use href="#i-trident" x="200" y="267.85" width="42" height="38"/><use href="#i-trident" x="200" y="306.82" width="42" height="38"/><use href="#i-slime" x="200" y="345.74" width="42" height="38"/><use href="#i-skull" x="200" y="384.86" width="42" height="38"/><use href="#i-gear" x="200" y="423.83" width="42" height="38"/><use href="#i-trident" x="200" y="462.70" width="42" height="38"/><use href="#i-slime" x="200" y="501.62" width="42" height="38"/><use href="#i-cran" x="806" y="545" width="40" height="36"/>
</svg>
<div class="n" style="left:303.03px;top:80px;color:#F8861A">1.10</div><div class="n" style="left:371.03px;top:80px;color:#F8861A">1.10</div><div class="n" style="left:507.03px;top:80px;color:#F8861A">1.10</div><div class="n" style="left:370.57px;top:119px;color:#1E86F0">0.85</div><div class="n" style="left:506.57px;top:119px;color:#1E86F0">0.75</div><div class="n" style="left:575.03px;top:119px;color:#F8861A">1.10</div><div class="n" style="left:643.03px;top:119px;color:#F8861A">1.10</div><div class="n" style="left:234.77px;top:158px;color:#E41410">1.25</div><div class="n" style="left:303.03px;top:158px;color:#F8861A">1.10</div><div class="n" style="left:370.57px;top:158px;color:#0000CD">0.65</div><div class="n" style="left:438.77px;top:158px;color:#E41410">1.25</div><div class="n" style="left:507.03px;top:158px;color:#F8861A">1.10</div><div class="n" style="left:710.57px;top:158px;color:#0000CD">0.65</div><div class="n" style="left:234.57px;top:197px;color:#1E86F0">0.75</div><div class="n" style="left:302.77px;top:197px;color:#E41410">1.25</div><div class="n" style="left:370.57px;top:197px;color:#1E86F0">0.75</div><div class="n" style="left:438.57px;top:197px;color:#1E86F0">0.75</div><div class="n" style="left:506.83px;top:197px;color:#0000CD">0.40</div><div class="n" style="left:575.03px;top:197px;color:#E41410">1.30</div><div class="n" style="left:643.03px;top:197px;color:#E41410">1.30</div><div class="n" style="left:711.03px;top:197px;color:#E41410">1.30</div><div class="n" style="left:302.57px;top:236px;color:#1E86F0">0.85</div><div class="n" style="left:370.57px;top:236px;color:#1E86F0">0.85</div><div class="n" style="left:439.03px;top:236px;color:#E41410">1.50</div><div class="n" style="left:507.03px;top:236px;color:#F8861A">1.20</div><div class="n" style="left:643.03px;top:236px;color:#F8861A">1.10</div><div class="n" style="left:711.03px;top:236px;color:#F8861A">1.10</div><div class="n" style="left:234.82px;top:275px;color:#0000CD">0.60</div><div class="n" style="left:370.57px;top:275px;color:#1E86F0">0.75</div><div class="n" style="left:438.82px;top:275px;color:#0000CD">0.70</div><div class="n" style="left:506.83px;top:275px;color:#1E86F0">0.80</div><div class="n" style="left:574.83px;top:275px;color:#0000CD">0.60</div><div class="n" style="left:643.03px;top:275px;color:#E41410">1.40</div><div class="n" style="left:370.82px;top:314px;color:#0000CD">0.50</div><div class="n" style="left:438.82px;top:314px;color:#0000CD">0.50</div><div class="n" style="left:574.57px;top:314px;color:#0000CD">0.65</div><div class="n" style="left:643.03px;top:314px;color:#E41410">1.30</div><div class="n" style="left:711.03px;top:314px;color:#F8861A">1.10</div><div class="n" style="left:302.57px;top:353px;color:#1E86F0">0.85</div><div class="n" style="left:643.03px;top:353px;color:#F8861A">1.10</div><div class="n" style="left:235.03px;top:392px;color:#E41410">1.50</div><div class="n" style="left:303.03px;top:392px;color:#E41410">1.50</div><div class="n" style="left:371.03px;top:392px;color:#F8861A">1.10</div><div class="n" style="left:642.83px;top:392px;color:#0000CD">0.50</div><div class="n" style="left:234.82px;top:431px;color:#0000CD">0.70</div><div class="n" style="left:302.82px;top:431px;color:#0000CD">0.70</div><div class="n" style="left:370.57px;top:431px;color:#1E86F0">0.85</div><div class="n" style="left:439.03px;top:431px;color:#E41410">1.30</div><div class="n" style="left:506.57px;top:431px;color:#1E86F0">0.85</div><div class="n" style="left:710.83px;top:431px;color:#1E86F0">0.90</div><div class="n" style="left:370.82px;top:470px;color:#0000CD">0.50</div><div class="n" style="left:507.03px;top:470px;color:#F8861A">1.10</div><div class="n" style="left:643.03px;top:470px;color:#F8861A">1.10</div><div class="l" style="left:224.10px;top:103px;color:#F08A1E">1.1</div><div class="l" style="left:224.10px;top:141px;color:#F08A1E">1.1</div><div class="l" style="left:224.10px;top:180px;color:#D8141E">1.2</div><div class="l" style="left:224.10px;top:219px;color:#F08A1E">1.1</div><div class="l" style="left:224.10px;top:258px;color:#F08A1E">1.1</div><div class="l" style="left:224.10px;top:297px;color:#111">1.0</div><div class="l" style="left:224.10px;top:336px;color:#F08A1E">1.1</div><div class="l" style="left:224.10px;top:375px;color:#F08A1E">1.1</div><div class="l" style="left:224.10px;top:414px;color:#F08A1E">1.1</div><div class="l" style="left:224.10px;top:453px;color:#F08A1E">1.1</div><div class="l" style="left:224.10px;top:492px;color:#F08A1E">1.1</div><div class="l" style="left:224.10px;top:531px;color:#111">1.0</div>
<div class="f">generated by CranberryBot</div>
</body></html>
